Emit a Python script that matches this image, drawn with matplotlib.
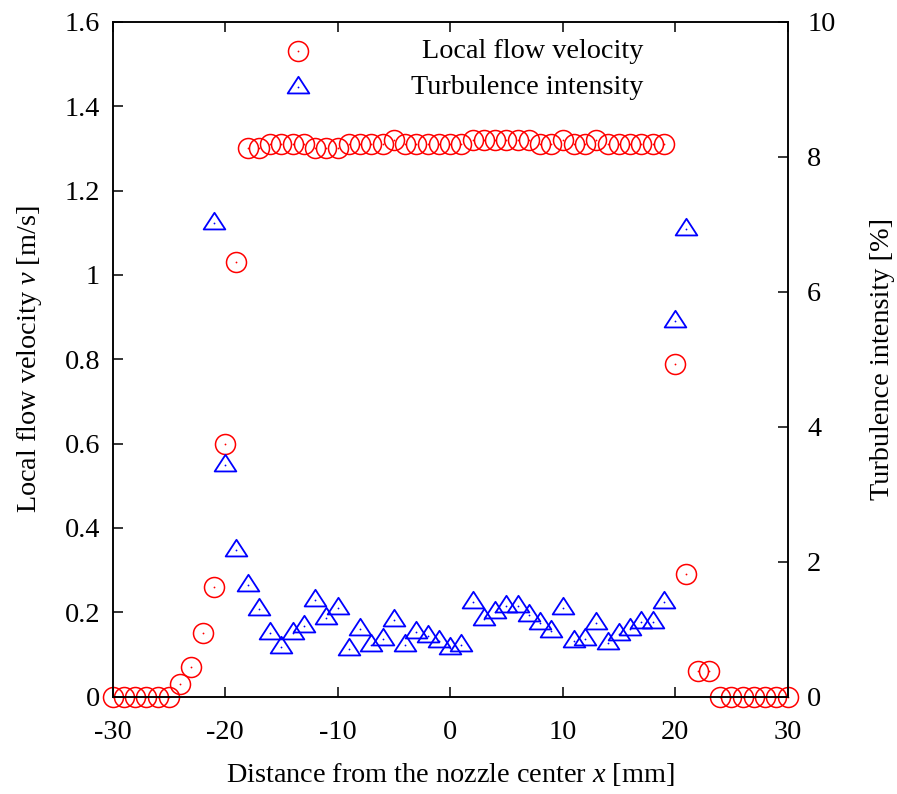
import matplotlib
matplotlib.use("Agg")
import matplotlib.pyplot as plt
from matplotlib.path import Path

plt.rcParams['font.family'] = ['Liberation Serif', 'DejaVu Serif']
plt.rcParams['mathtext.fontset'] = 'custom'
plt.rcParams['mathtext.rm'] = 'Liberation Serif'
plt.rcParams['mathtext.it'] = 'Liberation Serif:italic'
plt.rcParams['axes.unicode_minus'] = False

# velocity profile, one reading per mm
vel_x = list(range(-30, 31))
vel = [0, 0, 0, 0, 0, 0, 0.03, 0.07, 0.15, 0.26, 0.60, 1.03,
       1.30, 1.30, 1.31, 1.31, 1.31, 1.31, 1.30, 1.30, 1.30, 1.31,
       1.31, 1.31, 1.31, 1.32, 1.31, 1.31, 1.31, 1.31, 1.31, 1.31,
       1.32, 1.32, 1.32, 1.32, 1.32, 1.32, 1.31, 1.31, 1.32, 1.31,
       1.31, 1.32, 1.31, 1.31, 1.31, 1.31, 1.31, 1.31,
       0.79, 0.29, 0.06, 0.06, 0, 0, 0, 0, 0, 0, 0]

# turbulence intensity inside the jet only
turb_x = list(range(-21, 22))
turb = [7.02, 3.44, 2.17, 1.65, 1.30, 0.94, 0.73, 0.94, 1.05, 1.44,
        1.16, 1.32, 0.71, 1.01, 0.76, 0.86, 1.13, 0.77, 0.96, 0.90,
        0.82, 0.72, 0.77, 1.41, 1.15, 1.25, 1.34, 1.34, 1.21, 1.09,
        0.97, 1.32, 0.82, 0.86, 1.09, 0.79, 0.93, 1.01, 1.10, 1.10,
        1.40, 5.57, 6.93]

xticks = [-30, -20, -10, 0, 10, 20, 30]
yticks = [0, 0.2, 0.4, 0.6, 0.8, 1.0, 1.2, 1.4, 1.6]
yticklabels = ['0', '0.2', '0.4', '0.6', '0.8', '1', '1.2', '1.4', '1.6']
y2ticks = [0, 2, 4, 6, 8, 10]

# gnuplot style triangle (wider than tall, centred on the dot)
tri = Path([(0, 0.99), (-1, -0.55), (1, -0.55), (0, 0.99)],
           [Path.MOVETO, Path.LINETO, Path.LINETO, Path.CLOSEPOLY])

FS = 20.3
RED = '#ff0000'
BLUE = '#0000ff'

fig = plt.figure(figsize=(8.97, 7.94), dpi=100)
ax = fig.add_axes([0.1256, 0.1226, 0.7525, 0.8497])
ax2 = ax.twinx()

ax.plot(vel_x, vel, ls='none', marker='o', ms=14.4, mfc='none',
        mec=RED, mew=1.1, clip_on=False)
ax.plot(vel_x, vel, ls='none', marker='o', ms=1.3, mfc=RED,
        mec=RED, mew=0, clip_on=False)
ax2.plot(turb_x, turb, ls='none', marker=tri, ms=15.6, mfc='none',
         mec=BLUE, mew=1.3, clip_on=False)
ax2.plot(turb_x, turb, ls='none', marker='o', ms=1.3, mfc=BLUE,
         mec=BLUE, mew=0, clip_on=False)

ax.set_xlim(-30, 30)
ax.set_ylim(0, 1.6)
ax2.set_ylim(0, 10)

ax.set_xticks(xticks)
ax.set_xticklabels([str(t) for t in xticks])
ax.set_yticks(yticks)
ax.set_yticklabels(yticklabels)
ax2.set_yticks(y2ticks)
ax2.set_yticklabels([str(t) for t in y2ticks])

ax.tick_params(axis='x', direction='in', top=True, length=7, width=1.1,
               labelsize=FS, pad=17)
ax.tick_params(axis='y', direction='in', right=False, length=7, width=1.1,
               labelsize=FS, pad=9)
ax2.tick_params(axis='y', direction='in', length=7, width=1.1,
                labelsize=FS, pad=14)

for a in (ax, ax2):
    for s in a.spines.values():
        s.set_linewidth(1.1)

ax.set_xlabel('Distance from the nozzle center $x$ [mm]', fontsize=FS,
              labelpad=11)
ax.set_ylabel('Local flow velocity $v$ [m/s]', fontsize=FS, labelpad=15)
ax2.set_ylabel('Turbulence intensity [%]', fontsize=FS, labelpad=25)

# key: sample on the left, text right-justified
ax.plot([0.274], [0.957], transform=ax.transAxes, ls='none', marker='o',
        ms=14.4, mfc='none', mec=RED, mew=1.1, clip_on=False)
ax.plot([0.274], [0.957], transform=ax.transAxes, ls='none', marker='o',
        ms=1.3, mfc=RED, mec=RED, mew=0)
ax.text(0.786, 0.957, 'Local flow velocity', transform=ax.transAxes,
        ha='right', va='center', fontsize=FS)
ax2.plot([0.275], [0.903], transform=ax2.transAxes, ls='none', marker=tri,
         ms=15.6, mfc='none', mec=BLUE, mew=1.3, clip_on=False)
ax2.plot([0.275], [0.903], transform=ax2.transAxes, ls='none', marker='o',
         ms=1.3, mfc=BLUE, mec=BLUE, mew=0)
ax2.text(0.786, 0.903, 'Turbulence intensity', transform=ax2.transAxes,
         ha='right', va='center', fontsize=FS)

fig.savefig('out.png', dpi=100)
